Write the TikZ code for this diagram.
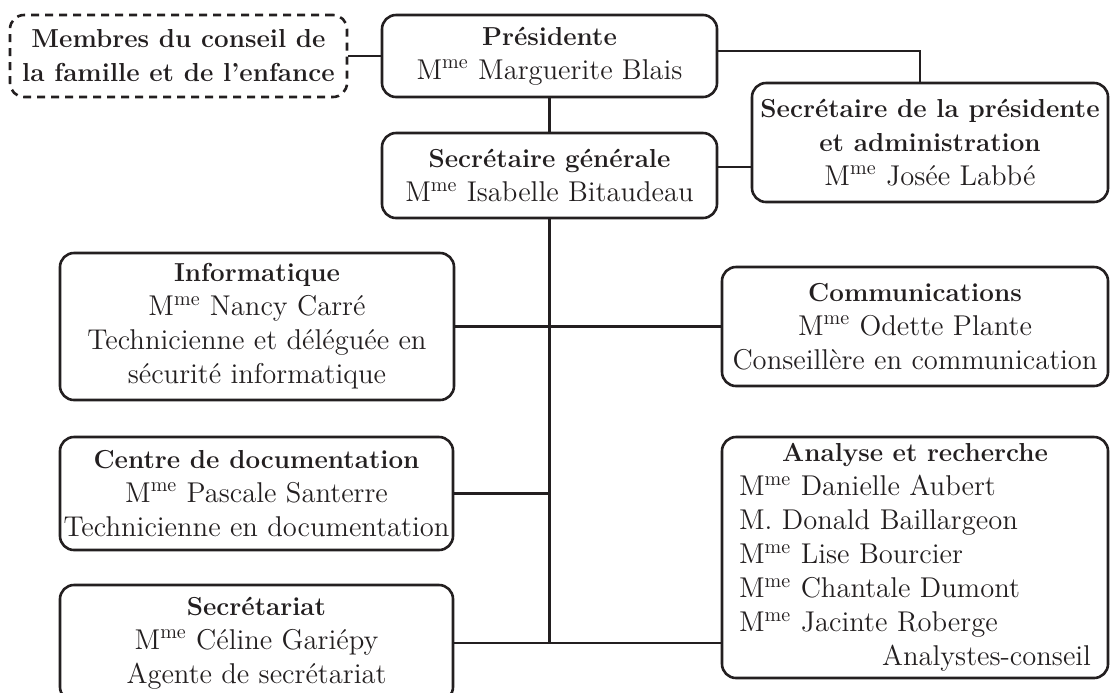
\documentclass[tikz,border=0pt]{standalone}
\usepackage{fontspec}
\usepackage{xcolor}
\definecolor{ink}{HTML}{231F20}
\tikzset{
  boxsize/.style 2 args={minimum width=#1*0.5pt,minimum height=#2*0.5pt},
  box/.style={draw=ink,text=ink,line width=1.3pt,rounded corners=7pt,align=center,inner sep=0pt,font=\fontsize{14.3}{17}\selectfont},
  dashbox/.style={box,dash pattern=on 4pt off 3pt},
  link/.style={draw=ink,line width=1.3pt}
}
\newcommand{\Mme}{M\textsuperscript{me}}
\newcommand{\titre}[1]{{\fontsize{13}{17}\selectfont\bfseries #1}}

\begin{document}
\begin{tikzpicture}[x=0.5pt,y=-0.5pt]
\useasboundingbox (0,0) rectangle (1112,692);
\node[dashbox,boxsize={337}{82}] (membres) at (178.5,56) {\titre{Membres du conseil de}\\\titre{la famille et de l’enfance}};
\node[box,boxsize={335}{82}] (pres) at (549.5,56) {\titre{Présidente}\\\Mme{} Marguerite Blais};
\node[box,boxsize={335}{85}] (secgen) at (549.5,175.5) {\titre{Secrétaire générale}\\\Mme{} Isabelle Bitaudeau};
\node[box,boxsize={356}{119}] (secpres) at (930,142.5) {\titre{Secrétaire de la présidente}\\\titre{et administration}\\\Mme{} Josée Labbé};
\node[box,boxsize={394}{147}] (info) at (257,326.5) {\titre{Informatique}\\\Mme{} Nancy Carré\\Technicienne et déléguée en\\sécurité informatique};
\node[box,boxsize={386}{119}] (comm) at (915,326.5) {\titre{Communications}\\\Mme{} Odette Plante\\Conseillère en communication};
\node[box,boxsize={393}{113}] (centre) at (256.5,493.5) {\titre{Centre de documentation}\\\Mme{} Pascale Santerre\\Technicienne en documentation};
\node[box,boxsize={386}{241},text width=176pt,align=left] (analyse) at (915,557.5) {\makebox[\hsize]{\titre{Analyse et recherche}}\\\Mme{} Danielle Aubert\\M. Donald Baillargeon\\\Mme{} Lise Bourcier\\\Mme{} Chantale Dumont\\\Mme{} Jacinte Roberge\\\makebox[\hsize][r]{Analystes-conseil}};
\node[box,boxsize={393}{116}] (secr) at (256.5,643) {\titre{Secrétariat}\\\Mme{} Céline Gariépy\\Agente de secrétariat};
\draw[link] (membres) -- (pres);
\draw[link] (pres) -- (secgen);
\draw[link] ([yshift=2.5pt]pres.east) -| ([xshift=-5pt]secpres.north);
\draw[link] ([yshift=4.25pt]secgen.east) -- ([yshift=4.25pt]secgen.east -| secpres.west);
\draw[link] (secgen.south) -- (secgen.south |- secr.east);
\draw[link] (info.east) -- (comm.west);
\draw[link] (centre.east) -- (centre.east -| secgen.south);
\draw[link] (secr.east) -- (secr.east -| analyse.west);
\end{tikzpicture}
\end{document}
